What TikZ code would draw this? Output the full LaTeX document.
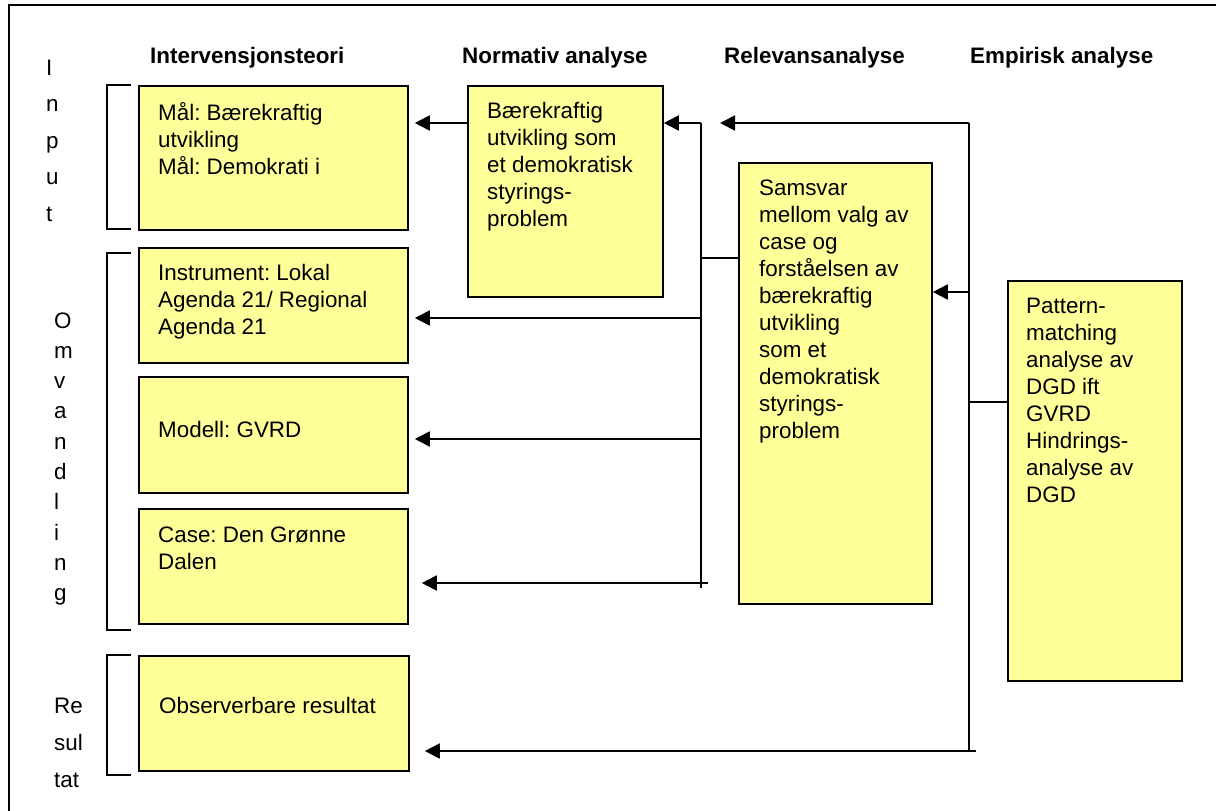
\documentclass[tikz,border=0pt]{standalone}
\usepackage{fontspec}
\setmainfont{Liberation Sans}
\usetikzlibrary{arrows.meta}
\definecolor{boxyellow}{HTML}{FFFF99}
\frenchspacing
\begin{document}
\begin{tikzpicture}[x=1pt,y=-1pt,
  box/.style={draw=black, fill=boxyellow, line width=1.8pt, inner sep=0pt, anchor=north west},
  txt/.style={anchor=base west, inner sep=0pt, font=\fontsize{22.4}{27}\selectfont},
  head/.style={anchor=base west, inner sep=0pt, font=\fontsize{22.4}{27}\selectfont\bfseries},
  conn/.style={line width=1.8pt, draw=black},
  arr/.style={conn, -{Triangle[length=15pt,width=15pt]}},
  brace/.style={line width=1.8pt, draw=black}
]
\useasboundingbox (0,0) rectangle (1216,811);

% outer frame (left and top edges)
\draw[line width=2pt] (9,811) -- (9,5) -- (1216,5);

% column headings
\node[head] (h1) at (150,63) {Intervensjonsteori};
\node[head] (h2) at (462,63) {Normativ analyse};
\node[head] (h3) at (724,63) {Relevansanalyse};
\node[head] (h4) at (970,63) {Empirisk analyse};

% row labels, one letter per line
\node[anchor=base west, inner sep=0pt, font=\fontsize{22.4}{36.6}\selectfont] (lInput) at (46,75)
  {\parbox[t]{40pt}{I\\n\\p\\u\\t}};
\node[anchor=base west, inner sep=0pt, font=\fontsize{22.4}{30.3}\selectfont] (lOmv) at (54,328)
  {\parbox[t]{40pt}{O\\m\\v\\a\\n\\d\\l\\i\\n\\g}};
\node[anchor=base west, inner sep=0pt, font=\fontsize{22.4}{37}\selectfont] (lRes) at (54,713)
  {\parbox[t]{40pt}{Re\\sul\\tat}};

% brackets
\draw[brace] (131,85) -- (107,85) -- (107,229) -- (131,229);
\draw[brace] (131,253) -- (107,253) -- (107,630) -- (131,630);
\draw[brace] (131,655) -- (107,655) -- (107,775) -- (131,775);

% boxes
\node[box, minimum width=269pt, minimum height=144pt] (mal) at (138,85) {};
\node[box, minimum width=269pt, minimum height=115pt] (inst) at (138,247) {};
\node[box, minimum width=269pt, minimum height=116pt] (modell) at (138,376) {};
\node[box, minimum width=269pt, minimum height=115pt] (case) at (138,508) {};
\node[box, minimum width=270pt, minimum height=115pt] (obs) at (138,655) {};
\node[box, minimum width=195pt, minimum height=211pt] (norm) at (467,85) {};
\node[box, minimum width=193pt, minimum height=441pt] (sam) at (738,162) {};
\node[box, minimum width=174pt, minimum height=400pt] (pat) at (1007,280) {};

% box texts
\node[txt] (malT) at ([shift={(20,35)}]mal.north west)
  {\parbox[t]{250pt}{Mål: Bærekraftig\\utvikling\\Mål: Demokrati i}};
\node[txt] (instT) at ([shift={(20,33)}]inst.north west)
  {\parbox[t]{250pt}{Instrument: Lokal\\Agenda 21/ Regional\\Agenda 21}};
\node[txt] (modellT) at ([shift={(20,61)}]modell.north west)
  {\parbox[t]{250pt}{Modell: GVRD}};
\node[txt] (caseT) at ([shift={(20,34)}]case.north west)
  {\parbox[t]{250pt}{Case: Den Grønne\\Dalen}};
\node[txt] (obsT) at ([shift={(21,58)}]obs.north west)
  {\parbox[t]{250pt}{Observerbare resultat}};
\node[txt] (normT) at ([shift={(20,33)}]norm.north west)
  {\parbox[t]{180pt}{Bærekraftig\\utvikling som\\et demokratisk\\styrings-\\problem}};
\node[txt] (samT) at ([shift={(21,33)}]sam.north west)
  {\parbox[t]{170pt}{Samsvar\\mellom valg av\\case og\\forståelsen av\\bærekraftig\\utvikling\\som et\\demokratisk\\styrings-\\problem}};
\node[txt] (patT) at ([shift={(19,33)}]pat.north west)
  {\parbox[t]{150pt}{Pattern-\\matching\\analyse av\\DGD ift\\GVRD\\Hindrings-\\analyse av\\DGD}};

% bus points
\coordinate (lbTop) at (701,123);
\coordinate (lbBot) at (701,588);
\coordinate (lbCase) at (708,583);
\coordinate (rbTop) at (969,123);
\coordinate (rbLow) at (969,751);
\coordinate (rbBot) at (976,751);
\coordinate (freeTip) at (720,123);

% normative box feeds the goals
\draw[arr, shorten >=6pt] (norm.west |- lbTop) -- (mal.east |- lbTop);

% relevance bus
\draw[conn] (lbTop) -- (lbBot);
\draw[conn] (sam.west |- 0,258) -- (lbTop |- 0,258);
\draw[arr] (lbTop) -- (norm.east |- lbTop);
\draw[arr, shorten >=6pt] (lbTop |- 0,318) -- (inst.east |- 0,318);
\draw[arr, shorten >=6pt] (lbTop |- 0,439) -- (modell.east |- 0,439);
\draw[arr, shorten >=13pt] (lbCase) -- (case.east |- lbCase);

% empirical bus
\draw[conn] (rbTop) -- (rbLow);
\draw[arr] (rbTop) -- (freeTip);
\draw[arr] (rbTop |- 0,292) -- (sam.east |- 0,292);
\draw[conn] (pat.west |- 0,402) -- (rbTop |- 0,402);
\draw[arr, shorten >=15pt] (rbBot) -- (obs.east |- rbBot);
\end{tikzpicture}
\end{document}
